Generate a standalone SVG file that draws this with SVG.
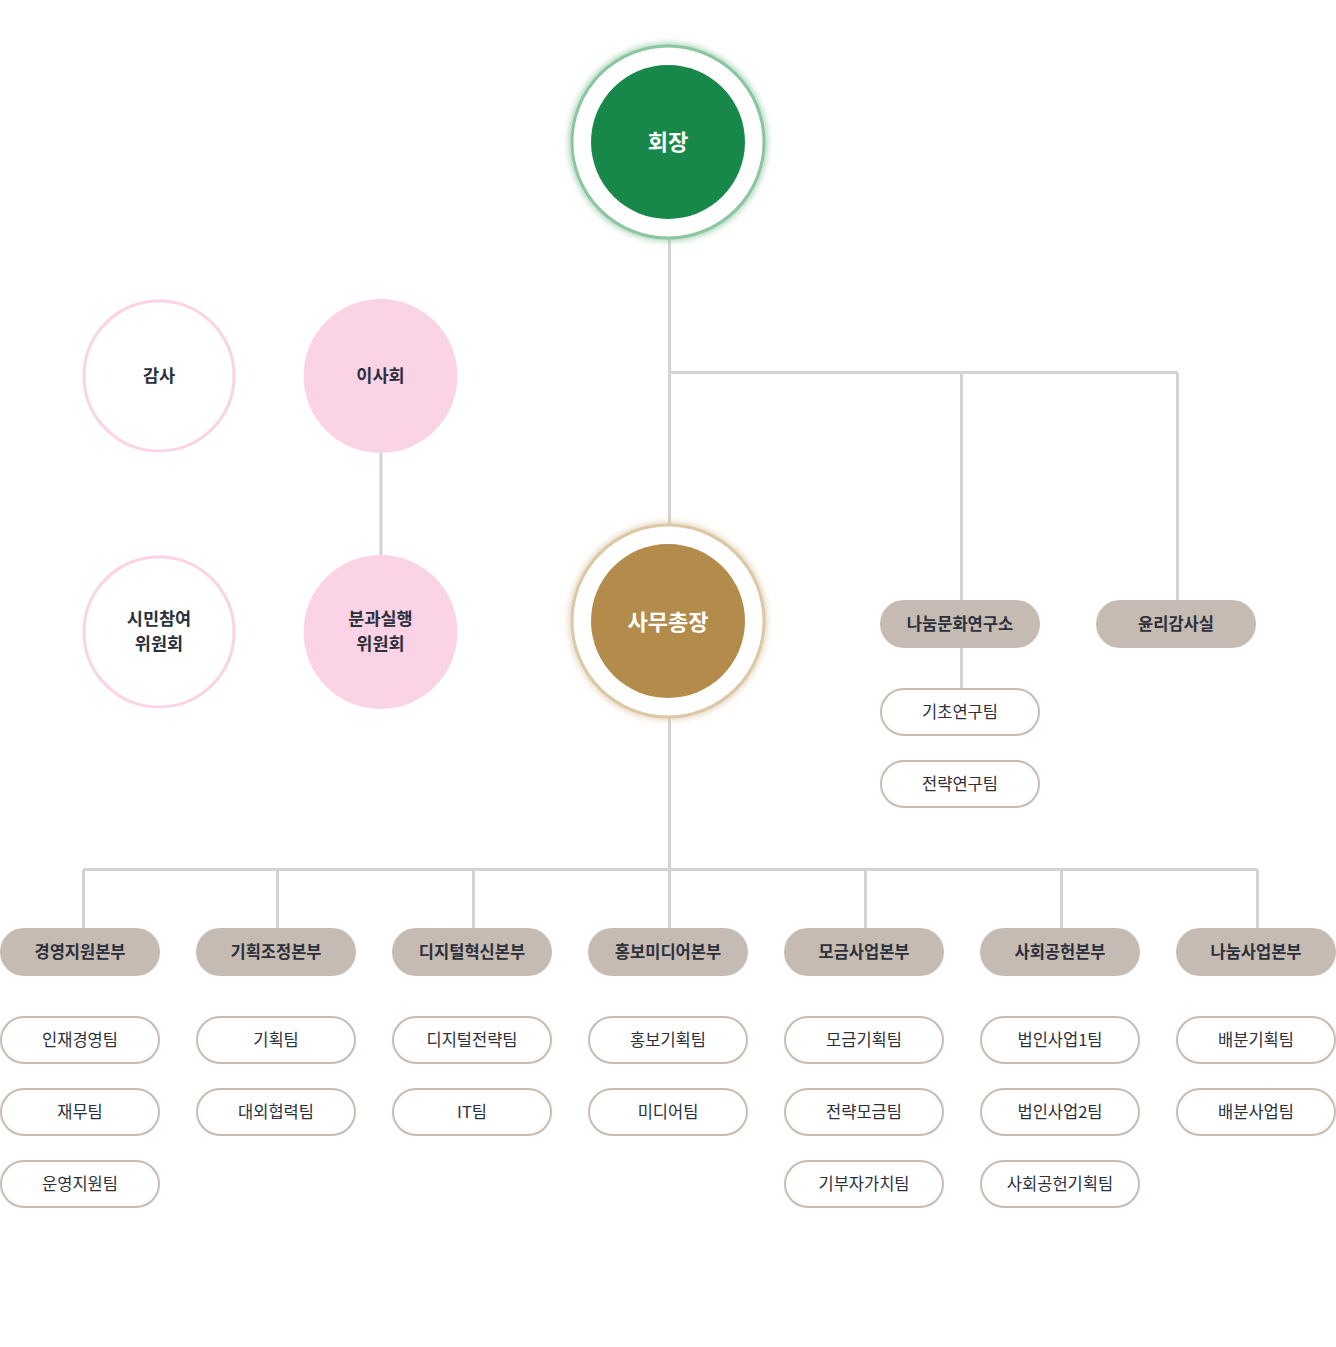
<svg xmlns="http://www.w3.org/2000/svg" width="1336" height="1347" viewBox="0 0 1336 1347">
<defs>
<filter id="glowG" x="-20%" y="-20%" width="140%" height="140%"><feGaussianBlur stdDeviation="3"/></filter>
<style>
.ln{stroke:#D3D3D3;stroke-width:3;fill:none}
.hq{fill:#C6BBB3}
.tm{fill:#FFFFFF;stroke:#C6BBB3;stroke-width:2}
.t{font-family:"Noto Sans CJK KR","Noto Sans",sans-serif;font-size:16.5px;fill:#2B303B;text-anchor:middle;dominant-baseline:central}
.b{font-weight:700}
.w{fill:#FFFFFF;font-weight:700;font-size:22px}
.c{font-size:17.5px;font-weight:700}
</style>
</defs>
<rect width="1336" height="1347" fill="#FFFFFF"/>
<g id="connectors">
<path class="ln" d="M669.5 238V525M669.5 372.5H1177.5M961.5 372.5V600M1177.5 372.5V600M961.5 648V688M381 453V555M669.5 718V869.5M83.5 869.5H1257.5M83.5 869.5V928M277.5 869.5V928M473.5 869.5V928M669.5 869.5V928M865.5 869.5V928M1061.5 869.5V928M1257.5 869.5V928"/>
</g>
<g id="n-chair">
<circle cx="668" cy="142" r="96" fill="none" stroke="#8CC6A0" stroke-width="5" filter="url(#glowG)"/>
<circle cx="668" cy="142" r="96" fill="#FFFFFF" stroke="#8CC6A0" stroke-width="3"/>
<circle cx="668" cy="142" r="77" fill="#17884A"/>
<text class="t w" x="668" y="140">회장</text>
</g>
<g id="n-sg">
<circle cx="668" cy="621" r="96" fill="none" stroke="#DCC8A6" stroke-width="5" filter="url(#glowG)"/>
<circle cx="668" cy="621" r="96" fill="#FFFFFF" stroke="#DCC8A6" stroke-width="3"/>
<circle cx="668" cy="621" r="77" fill="#B38B4A"/>
<text class="t w" x="668" y="619.5">사무총장</text>
</g>
<g id="n-audit">
<circle cx="159" cy="376" r="75" fill="#FFFFFF" stroke="#FAD3E4" stroke-width="3"/>
<text class="t c" x="159" y="374">감사</text>
</g>
<g id="n-board">
<circle cx="380.5" cy="376" r="77" fill="#FBD3E6"/>
<text class="t c" x="380.5" y="374">이사회</text>
</g>
<g id="n-citizen">
<circle cx="159" cy="632" r="75" fill="#FFFFFF" stroke="#FAD3E4" stroke-width="3"/>
<text class="t c" x="159" y="617">시민참여</text>
<text class="t c" x="159" y="642">위원회</text>
</g>
<g id="n-subcomm">
<circle cx="380.5" cy="632" r="77" fill="#FBD3E6"/>
<text class="t c" x="380.5" y="617">분과실행</text>
<text class="t c" x="380.5" y="642">위원회</text>
</g>
<g id="n-lab">
<rect class="hq" x="880" y="600" width="160" height="48" rx="24"/>
<text class="t b" x="960" y="623">나눔문화연구소</text>
</g>
<g id="n-ethics">
<rect class="hq" x="1096" y="600" width="160" height="48" rx="24"/>
<text class="t b" x="1176" y="623">윤리감사실</text>
</g>
<g id="n-lab1">
<rect class="tm" x="881" y="689" width="158" height="46" rx="23"/>
<text class="t" x="960" y="711">기초연구팀</text>
</g>
<g id="n-lab2">
<rect class="tm" x="881" y="761" width="158" height="46" rx="23"/>
<text class="t" x="960" y="783">전략연구팀</text>
</g>
<g id="n-hq1">
<rect class="hq" x="0" y="928" width="160" height="48" rx="24"/>
<text class="t b" x="80" y="951">경영지원본부</text>
</g>
<g id="n-hq1-t1"><rect class="tm" x="1" y="1017" width="158" height="46" rx="23"/><text class="t" x="80" y="1039">인재경영팀</text></g>
<g id="n-hq1-t2"><rect class="tm" x="1" y="1089" width="158" height="46" rx="23"/><text class="t" x="80" y="1111">재무팀</text></g>
<g id="n-hq1-t3"><rect class="tm" x="1" y="1161" width="158" height="46" rx="23"/><text class="t" x="80" y="1183">운영지원팀</text></g>
<g id="n-hq2">
<rect class="hq" x="196" y="928" width="160" height="48" rx="24"/>
<text class="t b" x="276" y="951">기획조정본부</text>
</g>
<g id="n-hq2-t1"><rect class="tm" x="197" y="1017" width="158" height="46" rx="23"/><text class="t" x="276" y="1039">기획팀</text></g>
<g id="n-hq2-t2"><rect class="tm" x="197" y="1089" width="158" height="46" rx="23"/><text class="t" x="276" y="1111">대외협력팀</text></g>
<g id="n-hq3">
<rect class="hq" x="392" y="928" width="160" height="48" rx="24"/>
<text class="t b" x="472" y="951">디지털혁신본부</text>
</g>
<g id="n-hq3-t1"><rect class="tm" x="393" y="1017" width="158" height="46" rx="23"/><text class="t" x="472" y="1039">디지털전략팀</text></g>
<g id="n-hq3-t2"><rect class="tm" x="393" y="1089" width="158" height="46" rx="23"/><text class="t" x="472" y="1111">IT팀</text></g>
<g id="n-hq4">
<rect class="hq" x="588" y="928" width="160" height="48" rx="24"/>
<text class="t b" x="668" y="951">홍보미디어본부</text>
</g>
<g id="n-hq4-t1"><rect class="tm" x="589" y="1017" width="158" height="46" rx="23"/><text class="t" x="668" y="1039">홍보기획팀</text></g>
<g id="n-hq4-t2"><rect class="tm" x="589" y="1089" width="158" height="46" rx="23"/><text class="t" x="668" y="1111">미디어팀</text></g>
<g id="n-hq5">
<rect class="hq" x="784" y="928" width="160" height="48" rx="24"/>
<text class="t b" x="864" y="951">모금사업본부</text>
</g>
<g id="n-hq5-t1"><rect class="tm" x="785" y="1017" width="158" height="46" rx="23"/><text class="t" x="864" y="1039">모금기획팀</text></g>
<g id="n-hq5-t2"><rect class="tm" x="785" y="1089" width="158" height="46" rx="23"/><text class="t" x="864" y="1111">전략모금팀</text></g>
<g id="n-hq5-t3"><rect class="tm" x="785" y="1161" width="158" height="46" rx="23"/><text class="t" x="864" y="1183">기부자가치팀</text></g>
<g id="n-hq6">
<rect class="hq" x="980" y="928" width="160" height="48" rx="24"/>
<text class="t b" x="1060" y="951">사회공헌본부</text>
</g>
<g id="n-hq6-t1"><rect class="tm" x="981" y="1017" width="158" height="46" rx="23"/><text class="t" x="1060" y="1039">법인사업1팀</text></g>
<g id="n-hq6-t2"><rect class="tm" x="981" y="1089" width="158" height="46" rx="23"/><text class="t" x="1060" y="1111">법인사업2팀</text></g>
<g id="n-hq6-t3"><rect class="tm" x="981" y="1161" width="158" height="46" rx="23"/><text class="t" x="1060" y="1183">사회공헌기획팀</text></g>
<g id="n-hq7">
<rect class="hq" x="1176" y="928" width="160" height="48" rx="24"/>
<text class="t b" x="1256" y="951">나눔사업본부</text>
</g>
<g id="n-hq7-t1"><rect class="tm" x="1177" y="1017" width="158" height="46" rx="23"/><text class="t" x="1256" y="1039">배분기획팀</text></g>
<g id="n-hq7-t2"><rect class="tm" x="1177" y="1089" width="158" height="46" rx="23"/><text class="t" x="1256" y="1111">배분사업팀</text></g>
</svg>
